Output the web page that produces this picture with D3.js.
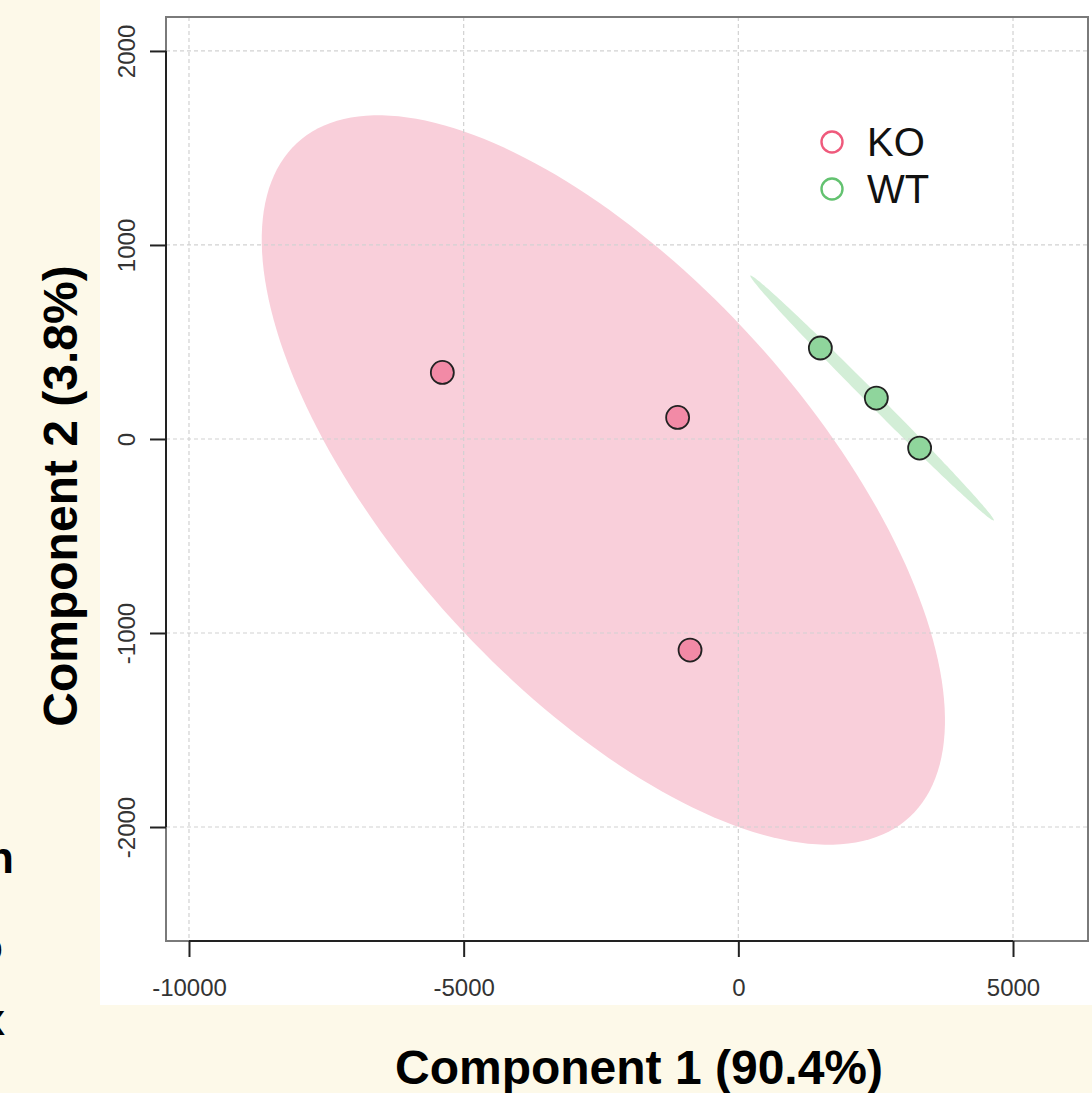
<!DOCTYPE html>
<html>
<head>
<meta charset="utf-8">
<script src="https://cdn.jsdelivr.net/npm/d3@7"></script>
<style>
  body { margin: 0; background: #fdf9e9; }
  svg { display: block; }
</style>
</head>
<body>
<script>
// PCA scores
const groups = ["KO", "WT"];
const sampleGroup = ["KO", "KO", "KO", "WT", "WT", "WT"];
const comp1 = [-5388, -1105, -879, 1493, 2512, 3300];
const comp2 = [343, 111, -1088, 469, 211, -47];

const xTicks = [-10000, -5000, 0, 5000];
const yTicks = [-2000, -1000, 0, 1000, 2000];

const pointFill = { KO: "#f28aa6", WT: "#8fd59c" };
const ellipseFill = { KO: "#f9cfda", WT: "#d3eed7" };
const legendStroke = { KO: "#ef5a7c", WT: "#63c270" };

const W = 1092, H = 1093;

const svg = d3.select("body").append("svg")
    .attr("width", W)
    .attr("height", H);

// white panel behind the plot
svg.append("rect")
    .attr("x", 100).attr("y", 0)
    .attr("width", W - 100).attr("height", 1005)
    .attr("fill", "#ffffff");

const x = d3.scaleLinear().domain([-10424, 6365]).range([165.7, 1088]);
const y = d3.scaleLinear().domain([-2586, 2175]).range([940.7, 17]);

svg.append("clipPath").attr("id", "plotclip")
    .append("rect")
    .attr("x", 166).attr("y", 17)
    .attr("width", 922).attr("height", 924);

// confidence ellipses (same parametrisation as ellipse::ellipse, level 0.95)
const t = Math.sqrt(-2 * Math.log(1 - 0.95));
function ellipsePts(g) {
    const idx = sampleGroup.map((s, i) => s === g ? i : -1).filter(i => i >= 0);
    const xs = idx.map(i => comp1[i]), ys = idx.map(i => comp2[i]);
    const mx = d3.mean(xs), my = d3.mean(ys);
    const sx = d3.deviation(xs), sy = d3.deviation(ys);
    const cov = d3.sum(xs.map((v, k) => (v - mx) * (ys[k] - my))) / (xs.length - 1);
    const d = Math.acos(cov / (sx * sy));
    return d3.range(0, 200).map(k => {
        const a = 2 * Math.PI * k / 200;
        return [x(mx + t * sx * Math.cos(a + d / 2)), y(my + t * sy * Math.cos(a - d / 2))];
    });
}

const plot = svg.append("g").attr("clip-path", "url(#plotclip)");
groups.forEach(g => {
    plot.append("path")
        .attr("d", d3.line().curve(d3.curveLinearClosed)(ellipsePts(g)))
        .attr("fill", ellipseFill[g]);
});

// dashed grid
const grid = svg.append("g")
    .attr("stroke", "#d2d2d2")
    .attr("stroke-width", 1.2)
    .attr("stroke-dasharray", "4,3");
grid.selectAll(".gx").data(xTicks).enter().append("line")
    .attr("x1", d => x(d)).attr("x2", d => x(d))
    .attr("y1", 17).attr("y2", 940.7);
grid.selectAll(".gy").data(yTicks).enter().append("line")
    .attr("y1", d => y(d)).attr("y2", d => y(d))
    .attr("x1", 166).attr("x2", 1088);

// points
svg.selectAll(".pt")
    .data(comp1.map((v, i) => ({ x: v, y: comp2[i], g: sampleGroup[i] })))
    .enter().append("circle")
    .attr("cx", d => x(d.x))
    .attr("cy", d => y(d.y))
    .attr("r", 11.5)
    .attr("fill", d => pointFill[d.g])
    .attr("stroke", "#222")
    .attr("stroke-width", 1.8);

// box
svg.append("rect")
    .attr("x", 166).attr("y", 17)
    .attr("width", 922).attr("height", 924)
    .attr("fill", "none")
    .attr("stroke", "#7a7a7a")
    .attr("stroke-width", 2);

// axes
const fmt = d => String(d);
const xAxis = svg.append("g")
    .attr("transform", "translate(0,941)")
    .call(d3.axisBottom(x).tickValues(xTicks).tickSize(16).tickPadding(22).tickFormat(fmt));
xAxis.select(".domain").remove();
xAxis.append("line")
    .attr("x1", x(xTicks[0])).attr("x2", x(xTicks[xTicks.length - 1]))
    .attr("stroke", "#222").attr("stroke-width", 2);

const yAxis = svg.append("g")
    .attr("transform", "translate(166,0)")
    .call(d3.axisLeft(y).tickValues(yTicks).tickSize(16).tickFormat(fmt));
yAxis.select(".domain").remove();
yAxis.append("line")
    .attr("y1", y(yTicks[0])).attr("y2", y(yTicks[yTicks.length - 1]))
    .attr("stroke", "#222").attr("stroke-width", 2);

[xAxis, yAxis].forEach(a => {
    a.selectAll(".tick line").attr("stroke", "#222").attr("stroke-width", 2);
    a.selectAll("text")
        .attr("font-family", "Liberation Sans, Arial, sans-serif")
        .attr("font-size", 24)
        .attr("fill", "#333");
});
yAxis.selectAll(".tick text")
    .attr("x", null).attr("dy", null)
    .attr("transform", "translate(-31,0) rotate(-90)")
    .attr("text-anchor", "middle");

// legend
const legend = svg.append("g");
groups.forEach((g, i) => {
    legend.append("circle")
        .attr("cx", 832).attr("cy", 142 + i * 47)
        .attr("r", 10.5)
        .attr("fill", "none")
        .attr("stroke", legendStroke[g])
        .attr("stroke-width", 2.4);
    legend.append("text")
        .attr("x", 867).attr("y", 142 + i * 47)
        .attr("dy", "0.36em")
        .attr("font-family", "Liberation Sans, Arial, sans-serif")
        .attr("font-size", 40)
        .attr("fill", "#111")
        .text(g);
});

// axis titles
svg.append("text")
    .attr("x", 639).attr("y", 1084)
    .attr("text-anchor", "middle")
    .attr("font-family", "Liberation Sans, Arial, sans-serif")
    .attr("font-weight", "bold")
    .attr("font-size", 48)
    .text("Component 1 (90.4%)");

svg.append("text")
    .attr("transform", "translate(77,496) rotate(-90)")
    .attr("text-anchor", "middle")
    .attr("font-family", "Liberation Sans, Arial, sans-serif")
    .attr("font-weight", "bold")
    .attr("font-size", 48)
    .text("Component 2 (3.8%)");

// cut-off text from the neighbouring panel at the left edge
const cut = [["Projection", 14, 873], ["Componento", 3, 962], ["(x", 5, 1035]];
svg.selectAll(".cut").data(cut).enter().append("text")
    .attr("x", d => d[1]).attr("y", d => d[2])
    .attr("text-anchor", "end")
    .attr("font-family", "Liberation Sans, Arial, sans-serif")
    .attr("font-weight", "bold")
    .attr("font-size", 44)
    .text(d => d[0]);
</script>
</body>
</html>
